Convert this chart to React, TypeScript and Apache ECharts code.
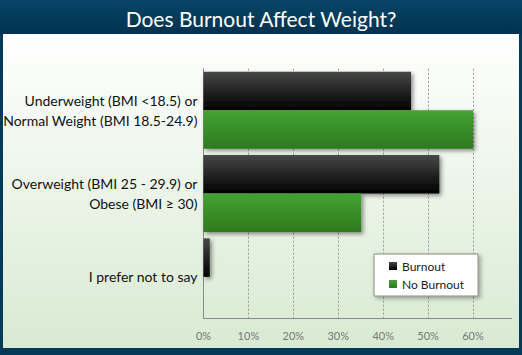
import React, { useEffect, useRef } from "react";
import * as echarts from "echarts";

const categories = [
  "Underweight (BMI <18.5) or\nNormal Weight (BMI 18.5-24.9)",
  "Overweight (BMI 25 - 29.9) or\nObese (BMI \u2265 30)",
  "I prefer not to say",
];
const burnout = [46.2, 52.5, 1.4];
const noBurnout = [60, 35.1, 0];
const seriesNames = ["Burnout", "No Burnout"];
const xTicks = [0, 10, 20, 30, 40, 50, 60];

const W = 522;
const H = 355;

export default function App() {
  const ref = useRef<HTMLDivElement>(null);
  useEffect(() => {
    document.body.style.margin = "0";
    const chart = echarts.init(ref.current!, null, { renderer: "svg" });
    const font = "Lato";
    const grad = (a: string, b: string) =>
      new echarts.graphic.LinearGradient(0, 0, 0, 1, [
        { offset: 0, color: a },
        { offset: 1, color: b },
      ]);
    chart.setOption({
      animation: false,
      textStyle: { fontFamily: font },
      title: {
        text: "Does Burnout Affect Weight?",
        left: "center",
        top: 3,
        textStyle: { color: "#ffffff", fontSize: 21, fontWeight: "normal", fontFamily: font },
      },
      graphic: [
        {
          type: "rect",
          z: -100,
          shape: { x: 0, y: 0, width: W, height: H },
          style: { fill: "#023a58" },
        },
        {
          type: "rect",
          z: -99,
          shape: { x: 0, y: 0, width: W, height: 34 },
          style: { fill: grad("#074567", "#02324f") },
        },
        {
          type: "rect",
          z: -98,
          shape: { x: 3, y: 34, width: W - 6, height: 314 },
          style: { fill: grad("#ffffff", "#d8ead2") },
        },
        {
          type: "line",
          z: 10,
          shape: { x1: 473, y1: 318.5, x2: 512, y2: 318.5 },
          style: { stroke: "#8a8a8a", lineWidth: 1 },
        },
      ],
      legend: {
        data: seriesNames,
        orient: "vertical",
        left: 374,
        top: 254,
        icon: "rect",
        itemWidth: 8,
        itemHeight: 8,
        itemGap: 6,
        padding: [6, 14, 6, 15],
        backgroundColor: "#ffffff",
        borderColor: "#8a8a8a",
        borderWidth: 1,
        shadowColor: "rgba(0,0,0,0.35)",
        shadowBlur: 4,
        shadowOffsetX: 2,
        shadowOffsetY: 2,
        textStyle: { fontSize: 12, color: "#222", fontFamily: font },
      },
      grid: { left: 201, right: W - 473, top: 68.7, bottom: H - 318.5, containLabel: false },
      xAxis: {
        type: "value",
        min: xTicks[0],
        max: xTicks[xTicks.length - 1],
        interval: 10,
        axisLine: { show: true, lineStyle: { color: "#8a8a8a" } },
        axisTick: { show: false },
        axisLabel: { formatter: "{value}%", color: "#777", fontSize: 11, margin: 11, fontFamily: font },
        splitLine: { show: true, lineStyle: { color: "#999", type: [2, 2], width: 1 } },
      },
      yAxis: {
        type: "category",
        data: categories,
        inverse: true,
        axisLine: { show: true, lineStyle: { color: "#8a8a8a" } },
        axisTick: { show: false },
        axisLabel: {
          color: "#111",
          fontSize: 14,
          lineHeight: 20,
          margin: 6,
          align: "right",
          fontFamily: font,
        },
      },
      series: [
        {
          name: seriesNames[0],
          type: "bar",
          data: burnout,
          barGap: "0%",
          barCategoryGap: "7.5%",
          itemStyle: {
            color: grad("#474747", "#000000"),
            shadowColor: "rgba(0,0,0,0.45)",
            shadowBlur: 4,
            shadowOffsetX: 2,
            shadowOffsetY: 2,
          },
        },
        {
          name: seriesNames[1],
          type: "bar",
          data: noBurnout,
          barGap: "0%",
          barCategoryGap: "7.5%",
          itemStyle: {
            color: grad("#45a332", "#2d7a1f"),
            shadowColor: "rgba(0,0,0,0.45)",
            shadowBlur: 4,
            shadowOffsetX: 2,
            shadowOffsetY: 2,
          },
        },
      ],
    });
    return () => chart.dispose();
  }, []);
  return <div ref={ref} style={{ width: W, height: H }} />;
}
